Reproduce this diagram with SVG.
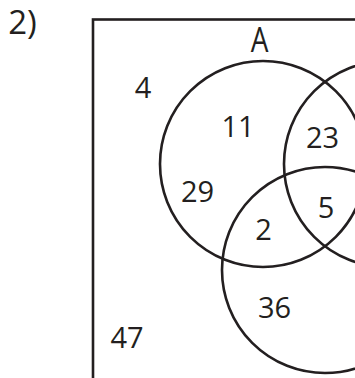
<svg xmlns="http://www.w3.org/2000/svg" width="355" height="378" viewBox="0 0 355 378">
<style>
.l{fill:none;stroke:#231f20;stroke-width:2.6}
.t{font-family:"Open Sans","Noto Sans",sans-serif;font-size:29px;fill:#231f20;text-anchor:middle}
</style>
<rect width="355" height="378" fill="#fff"/>
<text class="t" x="22.5" y="34" style="font-size:33px">2)</text>
<g id="universe"><rect class="l" x="93" y="19.5" width="320" height="420"/></g>
<g id="setA"><circle class="l" cx="263" cy="164" r="103"/><text class="t" transform="translate(259.5,52) scale(0.8,1)" style="font-size:35px">A</text></g>
<g id="setB"><circle class="l" cx="387" cy="164" r="103"/></g>
<g id="setC"><circle class="l" cx="325" cy="270" r="103"/></g>
<g id="values">
<text class="t" x="143" y="98">4</text>
<text class="t" x="238" y="137">11</text>
<text class="t" x="322.5" y="148">23</text>
<text class="t" x="197.5" y="202">29</text>
<text class="t" x="263.5" y="240">2</text>
<text class="t" x="326" y="218">5</text>
<text class="t" x="274.5" y="318">36</text>
<text class="t" x="127" y="348">47</text>
</g>
</svg>
